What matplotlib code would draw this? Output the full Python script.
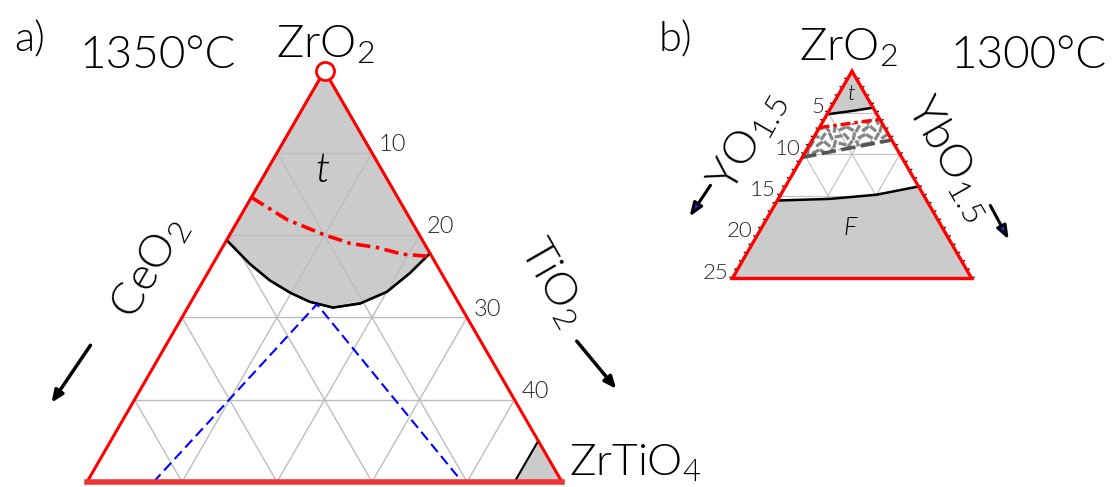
import numpy as np
import matplotlib.pyplot as plt
from matplotlib.patches import Polygon
from matplotlib.collections import LineCollection

plt.rcParams['font.family'] = ['Lato', 'DejaVu Sans']
plt.rcParams['font.weight'] = 300
plt.rcParams['mathtext.fontset'] = 'custom'
plt.rcParams['mathtext.rm'] = 'Lato:weight=300'
plt.rcParams['mathtext.it'] = 'Lato:italic:weight=300'
plt.rcParams['mathtext.default'] = 'rm'

R3 = np.sqrt(3) / 2

# a) ZrO2 - CeO2 - TiO2, 1350 C  (mol% CeO2 / TiO2, rest ZrO2)
a_tet_ceo2 = [20.6, 19.6, 18.5, 17.1, 15.6, 13.5, 10.4, 6.9, 3.3, 0.0]
a_tet_tio2 = [0.0, 3.9, 7.0, 9.9, 12.5, 15.3, 17.9, 20.0, 21.3, 22.2]
a_red_ceo2 = [15.4, 13.0, 10.1, 7.8, 5.2, 3.0, 0.0]
a_red_tio2 = [0.0, 5.1, 9.8, 13.2, 16.3, 19.3, 22.6]
a_blue_ceo2 = [43.0, 15.0, 10.5]
a_blue_tio2 = [7.0, 13.4, 39.5]
a_zt_tio2 = 45.0
a_ticks = [10, 20, 30, 40]
a_span = 50

# b) ZrO2 - YO1.5 - YbO1.5, 1300 C  (mol% YO1.5 / YbO1.5)
b_t_yo = [5.2, 2.4, 0.0]
b_t_ybo = [0.0, 2.4, 4.4]
b_red_yo = [6.8, 3.4, 0.0]
b_red_ybo = [0.0, 2.9, 5.8]
b_mix_yo = [10.4, 7.0, 3.5, 0.0]
b_mix_ybo = [0.0, 2.7, 5.5, 8.3]
b_f_yo = [15.6, 10.0, 4.9, 0.0]
b_f_ybo = [0.0, 5.4, 10.0, 13.9]
b_ticks = [5, 10, 15, 20, 25]
b_span = 25


def tern(left, right):
    left = np.asarray(left, float)
    right = np.asarray(right, float)
    return 50 + (right - left) / 2, (100 - left - right) * R3


def grid(ax, span, step, **kw):
    segs = []
    for v in np.arange(step, span, step):
        segs.append(np.column_stack(tern([v, 0], [0, v])))
        segs.append(np.column_stack(tern([v, v], [0, span - v])))
        segs.append(np.column_stack(tern([0, span - v], [v, v])))
    ax.add_collection(LineCollection(segs, **kw))


def corners(span):
    return np.column_stack(tern([0, span, 0], [0, 0, span]))


fig = plt.figure(figsize=(11.13, 4.87), dpi=100)


def fpos(x, y):
    return x / 1113, 1 - y / 487


# ---------------- panel a ----------------
ax = fig.add_axes([0, 0, 1, 1])
ax.set_xlim(25 - 87 / 9.5, 25 + 1026 / 9.5)
ax.set_ylim(a_span * R3 - 5 / 9.5, a_span * R3 + 482 / 9.5)
ax.axis('off')

tx, ty = tern(a_tet_ceo2, a_tet_tio2)
ax.add_patch(Polygon(np.column_stack([np.r_[50, tx], np.r_[100 * R3, ty]]),
                     fc='#cbcbcb', ec='black', lw=1.5, zorder=1))
zx, zy = tern([0, a_span - a_zt_tio2, 0], [a_zt_tio2, a_zt_tio2, a_span])
ax.add_patch(Polygon(np.column_stack([zx, zy]), fc='#cbcbcb', ec='none', zorder=1))
ax.plot(zx[:2], zy[:2], color='black', lw=1.5, zorder=4)

grid(ax, a_span, 10, colors='#bdbdbd', lw=1.0, zorder=2)

ax.plot(tx, ty, color='black', lw=1.8, zorder=4)
rx, ry = tern(a_red_ceo2, a_red_tio2)
ax.plot(rx, ry, color='red', lw=2.6, ls=(0, (4, 1.5, 1, 1.5)), zorder=5)
bx, by = tern(a_blue_ceo2, a_blue_tio2)
ax.plot(bx, by, color='blue', lw=1.5, ls=(0, (5, 2.5)), zorder=4)

c = corners(a_span)
ax.plot(c[[1, 0, 2], 0], c[[1, 0, 2], 1], color='red', lw=2.2, zorder=6)
ax.plot(c[1:, 0], c[1:, 1], color='#ee3333', lw=4, zorder=6)
ax.plot(c[0, 0], c[0, 1], 'o', ms=13, mfc='white', mec='red', mew=2, zorder=7)

for v in a_ticks:
    x, y = tern([0], [v])
    ax.annotate(str(v), (x[0], y[0]), xytext=(5, 6), textcoords='offset points',
                ha='left', va='center', fontsize=17, color='#222222')

fig.text(*fpos(30, 40), 'a)', fontsize=30, ha='center', va='center')
fig.text(*fpos(158, 55), '1350°C', fontsize=33, ha='center', va='center')
fig.text(*fpos(325, 45), 'ZrO$_2$', fontsize=33, ha='center', va='center')
fig.text(*fpos(323, 170), '$\\it{t}$', fontsize=30, ha='center', va='center')
fig.text(*fpos(150, 268), 'CeO$_2$', fontsize=33, ha='center', va='center',
         rotation=60, rotation_mode='anchor')
fig.text(*fpos(553, 282), 'TiO$_2$', fontsize=33, ha='center', va='center',
         rotation=-60, rotation_mode='anchor')
fig.text(*fpos(635, 463), 'ZrTiO$_4$', fontsize=32, ha='center', va='center')

arw = dict(arrowstyle='-|>,head_length=0.7,head_width=0.3', color='black', lw=2.5)
ax.annotate('', xy=fpos(50, 405), xytext=fpos(92, 343), xycoords='figure fraction',
            textcoords='figure fraction', arrowprops=arw)
ax.annotate('', xy=fpos(618, 391), xytext=fpos(575, 339), xycoords='figure fraction',
            textcoords='figure fraction', arrowprops=arw)

# ---------------- panel b ----------------
bx0 = fig.add_axes([0, 0, 1, 1])
bx0.patch.set_alpha(0)
s = 239.4 / b_span
bx0.set_xlim(37.5 - 732.3 / s, 37.5 + (1113 - 732.3) / s)
bx0.set_ylim(75 * R3 - 208.5 / s, 75 * R3 + 278.5 / s)
bx0.axis('off')

grid(bx0, b_span, 5, colors='#c4c4c4', lw=0.9, zorder=1)

tx, ty = tern(b_t_yo, b_t_ybo)
bx0.add_patch(Polygon(np.column_stack([np.r_[50, tx], np.r_[100 * R3, ty]]),
                      fc='#cbcbcb', ec='none', zorder=2))
bx0.plot(tx, ty, color='black', lw=1.8, zorder=4)

fx, fy = tern(b_f_yo, b_f_ybo)
ex, ey = tern([0, b_span], [b_span, 0])
bx0.add_patch(Polygon(np.column_stack([np.r_[fx, ex], np.r_[fy, ey]]),
                      fc='#cbcbcb', ec='none', zorder=2))
bx0.plot(fx, fy, color='black', lw=1.8, zorder=4)

rx, ry = tern(b_red_yo, b_red_ybo)
mx, my = tern(b_mix_yo, b_mix_ybo)
band = Polygon(np.column_stack([np.r_[rx, mx[::-1]], np.r_[ry, my[::-1]]]),
               fc='none', ec='none')
bx0.add_patch(band)

# short grey strokes filling the two-phase band
angles = np.deg2rad([35, -40, 75, -15, 55, -65, 10, -50, 80, 25, -30, 60])
xs = np.arange(mx.min() - 1, mx.max() + 1, 0.8)
ys = np.arange(my.min() - 1, ry.max() + 1, 0.8)
strokes = []
k = 0
for j, yy in enumerate(ys):
    for xx in xs + (j % 2) * 0.4:
        a = angles[k % len(angles)]
        k += 1
        dx, dy = 0.42 * np.cos(a), 0.42 * np.sin(a)
        strokes.append([(xx - dx, yy - dy), (xx + dx, yy + dy)])
lc = LineCollection(strokes, colors='#858585', lw=2.3, zorder=3)
bx0.add_collection(lc)
lc.set_clip_path(band)

bx0.plot(mx, my, color='#555555', lw=2.6, ls=(0, (4, 1.5)), zorder=4)
bx0.plot(rx, ry, color='red', lw=2.4, ls=(0, (3, 1.2, 1, 1.2)), zorder=5)

c = corners(b_span)
bx0.add_patch(Polygon(c, fc='none', ec='red', lw=2.4, zorder=6))

# 1 % ticks along the two side edges
tk = []
for v in range(1, b_span + 1):
    x, y = tern([v], [0])
    tk.append([(x[0], y[0]), (x[0] - 0.3, y[0] + 0.17)])
    x, y = tern([0], [v])
    tk.append([(x[0], y[0]), (x[0] + 0.3, y[0] + 0.17)])
bx0.add_collection(LineCollection(tk, colors='black', lw=0.9, zorder=5))

for v in b_ticks:
    x, y = tern([v], [0])
    bx0.annotate(str(v), (x[0], y[0]), xytext=(-3, 4), textcoords='offset points',
                 ha='right', va='center', fontsize=16, color='#222222')

fig.text(*fpos(675, 40), 'b)', fontsize=30, ha='center', va='center')
fig.text(*fpos(1028, 55), '1300°C', fontsize=33, ha='center', va='center')
fig.text(*fpos(848, 48), 'ZrO$_2$', fontsize=33, ha='center', va='center')
fig.text(*fpos(851, 94), '$\\it{t}$', fontsize=16, ha='center', va='center')
fig.text(*fpos(851, 228), '$\\it{F}$', fontsize=18, ha='center', va='center')
fig.text(*fpos(747, 141), 'YO$_{1.5}$', fontsize=33, ha='center', va='center',
         rotation=60, rotation_mode='anchor')
fig.text(*fpos(950, 158), 'YbO$_{1.5}$', fontsize=33, ha='center', va='center',
         rotation=-60, rotation_mode='anchor')

arwb = dict(arrowstyle='-|>,head_length=0.8,head_width=0.3', fc='#1a2ee0',
            ec='black', lw=2.2)
bx0.annotate('', xy=fpos(688, 219), xytext=fpos(712, 183), xycoords='figure fraction',
             textcoords='figure fraction', arrowprops=arwb)
bx0.annotate('', xy=fpos(1010, 242), xytext=fpos(989, 203), xycoords='figure fraction',
             textcoords='figure fraction', arrowprops=arwb)

fig.savefig('out.png', dpi=100)
